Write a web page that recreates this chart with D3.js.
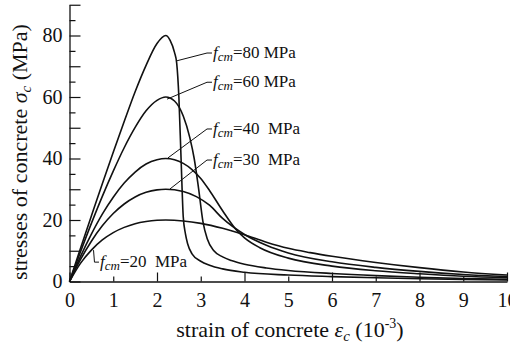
<!DOCTYPE html>
<html><head><meta charset="utf-8">
<script src="https://cdn.jsdelivr.net/npm/d3@7/dist/d3.min.js"></script>
<style>
body{margin:0;background:#fff}
svg{display:block}
text{font-family:"Liberation Serif","Times New Roman",serif;fill:#111}
</style>
</head><body>
<svg id="chart" width="510" height="348"></svg>
<script>
// ---- data (strain in 10^-3, stress in MPa) ----
const xTickValues = [0,1,2,3,4,5,6,7,8,9,10];
const yTickValues = [0,5,10,15,20,25,30,35,40,45,50,55,60,65,70,75,80,85,90];
const yTickLabels = [0,20,40,60,80];
const seriesNames = ["20","30","40","60","80"];

const fcm20 = [[0,0],[0.25,5.9],[0.5,10.2],[0.75,13.5],[1,15.9],[1.25,17.6],[1.5,18.8],[1.75,19.5],[2,19.9],[2.2,20],[2.6,19.7],[3,18.9],[3.5,17.3],[4,15.2],[4.5,12.8],[5,10.8],[5.5,9.4],[6,8.2],[7,6.2],[8,4.5],[9,3.1],[10,2.1]];
const fcm30 = [[0,0],[0.25,7.1],[0.5,13.1],[0.75,18.1],[1,22.1],[1.25,25.2],[1.5,27.5],[1.75,29],[2,29.8],[2.2,30],[2.6,29.3],[2.9,27.6],[3.2,24.8],[3.5,20.5],[4,15.3],[4.5,11.8],[5,9.3],[6,6.4],[7,4.6],[8,3.3],[9,2.3],[10,1.6]];
const fcm40 = [[0,0],[0.25,8.1],[0.5,15.4],[0.75,21.9],[1,27.4],[1.25,32],[1.5,35.6],[1.75,38.2],[2,39.6],[2.2,40],[2.4,39.6],[2.6,38.4],[2.8,36.4],[3,33.5],[3.2,29.6],[3.5,23],[3.8,17],[4,14.2],[4.35,11],[5,7.6],[6,5],[7,3.5],[8,2.5],[9,1.7],[10,1.2]];
const fcm60 = [[0,0],[0.25,9.6],[0.5,18.9],[0.75,27.7],[1,35.9],[1.25,43.5],[1.5,50.1],[1.75,55.5],[2,58.9],[2.2,60],[2.4,58.7],[2.6,53.8],[2.75,46.8],[2.85,40],[2.95,30.3],[3.05,19.5],[3.15,13.8],[3.3,10],[3.5,8],[3.7,6.8],[4,5.6],[4.5,4.4],[5,3.6],[6,2.6],[7,1.9],[8,1.4],[9,1.0],[10,0.7]];
const fcm80 = [[0,0],[0.25,10.7],[0.5,21.3],[0.75,31.8],[1,42],[1.25,52],[1.5,61.7],[1.75,70.3],[2,77.4],[2.2,80],[2.3,78.4],[2.4,74.5],[2.45,71],[2.5,60],[2.55,40],[2.6,21],[2.65,15.5],[2.7,12.3],[2.8,9],[3,6.6],[3.2,5.3],[3.5,4.1],[4,3.0],[5,2.1],[6,1.6],[7,1.2],[8,0.9],[9,0.7],[10,0.5]];
const seriesData = [fcm20, fcm30, fcm40, fcm60, fcm80];
const labelSuffix = ["=20\u00a0\u00a0MPa","=30\u00a0\u00a0MPa","=40\u00a0\u00a0MPa","=60 MPa","=80 MPa"];

// annotation anchors in data units: leader start on curve, bend, label start
const leaders = [
  [[0.549,10.2],[0.571,6.3],[0.674,6.3]],
  [[2.297,30.1],[3.143,39.5],[3.257,39.5]],
  [[2.251,40.2],[3.143,49.6],[3.257,49.6]],
  [[2.229,59.3],[3.143,64.8],[3.257,64.8]],
  [[2.434,71.7],[3.143,74.3],[3.257,74.3]]
];

// ---- drawing ----
const svg = d3.select("#chart");
const x = d3.scaleLinear().domain([0,10]).range([69.5,507]);
const y = d3.scaleLinear().domain([0,90]).range([281.5,4.75]);
const ink = "#111";

// x axis
const gx = svg.append("g").attr("transform",`translate(0,${y(0)})`)
  .call(d3.axisBottom(x).tickValues(xTickValues).tickSizeInner(-5).tickSizeOuter(0).tickPadding(11).tickFormat(d3.format("d")));
gx.select(".domain").attr("stroke",ink).attr("stroke-width",1.3);
gx.selectAll(".tick line").attr("stroke",ink).attr("stroke-width",1.2).attr("y2",d=>d%2===0?-9:-5);
gx.selectAll(".tick text").attr("font-size",20).attr("font-family","Liberation Serif").attr("fill",ink);

// y axis
const gy = svg.append("g").attr("transform",`translate(${x(0)},0)`)
  .call(d3.axisLeft(y).tickValues(yTickValues).tickSizeInner(-6).tickSizeOuter(0).tickPadding(7)
    .tickFormat(d=>yTickLabels.includes(d)?d:""));
gy.select(".domain").attr("stroke",ink).attr("stroke-width",1.3);
gy.selectAll(".tick line").attr("stroke",ink).attr("stroke-width",1.2).attr("x2",d=>d%10===0?11:6);
gy.selectAll(".tick text").attr("font-size",20).attr("font-family","Liberation Serif").attr("fill",ink);

// curves
const line = d3.line().x(d=>x(d[0])).y(d=>y(d[1])).curve(d3.curveMonotoneX);
svg.append("g").selectAll("path").data(seriesData).join("path")
  .attr("d",line).attr("fill","none").attr("stroke",ink).attr("stroke-width",1.6);

// leaders
const lline = d3.line().x(d=>x(d[0])).y(d=>y(d[1]));
svg.append("g").selectAll("path").data(leaders).join("path")
  .attr("d",lline).attr("fill","none").attr("stroke",ink).attr("stroke-width",1);

// labels
const lab = svg.append("g").selectAll("text").data(leaders).join("text")
  .attr("x",(d,i)=>x(d[2][0])+1)
  .attr("y",(d,i)=>y(d[2][1])+5)
  .attr("font-size",17);
lab.append("tspan").attr("font-style","italic").text("f");
lab.append("tspan").attr("font-style","italic").attr("font-size",13).attr("dy",3).text("cm");
lab.append("tspan").attr("dy",-3).text((d,i)=>labelSuffix[i]);

// x title
const xt = svg.append("text").attr("x",290).attr("y",337).attr("text-anchor","middle").attr("font-size",22);
xt.append("tspan").text("strain of concrete ");
xt.append("tspan").attr("font-style","italic").text("\u03b5");
xt.append("tspan").attr("font-style","italic").attr("font-size",15).attr("dy",4).text("c");
xt.append("tspan").attr("dy",-4).text(" (10");
xt.append("tspan").attr("font-size",14).attr("dy",-9).text("-3");
xt.append("tspan").attr("dy",9).text(")");

// y title
const yt = svg.append("text").attr("transform","translate(27,152) rotate(-90)").attr("text-anchor","middle").attr("font-size",22);
yt.append("tspan").text("stresses of concrete ");
yt.append("tspan").attr("font-style","italic").text("\u03c3");
yt.append("tspan").attr("font-style","italic").attr("font-size",15).attr("dy",4).text("c");
yt.append("tspan").attr("dy",-4).text(" (MPa)");
</script>
</body></html>
